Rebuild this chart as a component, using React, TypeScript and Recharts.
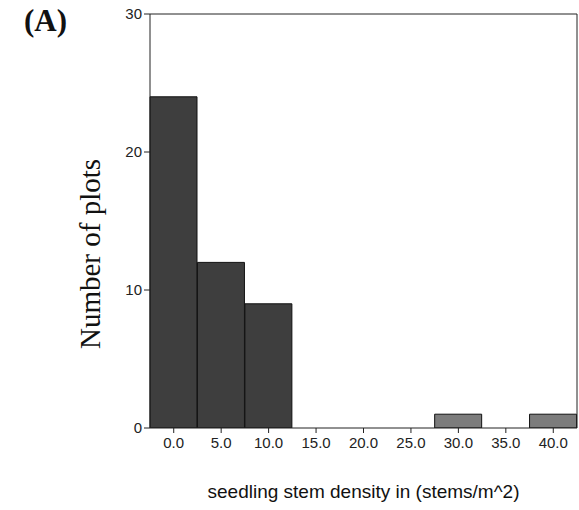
import { BarChart, Bar, XAxis, YAxis, Cell } from "recharts";

const binLabels = ["0.0", "5.0", "10.0", "15.0", "20.0", "25.0", "30.0", "35.0", "40.0"];
const plotCounts = [24, 12, 9, 0, 0, 0, 1, 0, 1];
const yTicks = [0, 10, 20, 30];

const data = binLabels.map((bin, i) => ({ bin, plots: plotCounts[i] }));

const tickFont = { fontSize: 15, fill: "#222", fontFamily: "Arial, 'Liberation Sans', sans-serif" };

function YTitle(props: any) {
  const vb = props.viewBox;
  const x = vb.x + 12;
  const y = vb.y + vb.height / 2 + 33;
  return (
    <text x={x} y={y} transform={`rotate(-90, ${x}, ${y})`} textAnchor="middle"
      style={{ fontFamily: "'Liberation Serif', 'Times New Roman', serif", fontSize: 29, fill: "#111" }}>
      Number of plots
    </text>
  );
}

function XTitle(props: any) {
  const vb = props.viewBox;
  return (
    <text x={vb.x + vb.width / 2} y={vb.y + 70} textAnchor="middle"
      style={{ fontFamily: "Arial, 'Liberation Sans', sans-serif", fontSize: 19, fill: "#111" }}>
      seedling stem density in (stems/m^2)
    </text>
  );
}

export default function App() {
  return (
    <div style={{ position: "absolute", left: 0, top: 0, width: 579, height: 510, background: "#fff" }}>
      <div style={{ position: "absolute", left: 24, top: 3, fontFamily: "'Liberation Serif', 'Times New Roman', serif", fontWeight: "bold", fontSize: 31, color: "#111" }}>
        (A)
      </div>
      <BarChart width={579} height={510} data={data} barCategoryGap={0}
        margin={{ top: 13, right: 1, left: 88, bottom: 52 }}>
        <XAxis dataKey="bin" interval={0} tick={tickFont} tickSize={5} tickMargin={4}
          stroke="#222" height={30} label={<XTitle />} />
        <XAxis xAxisId="top" dataKey="bin" orientation="top" height={1} tick={false} tickLine={false} stroke="#222" />
        <YAxis domain={[0, 30]} ticks={yTicks} tick={tickFont} tickSize={6} tickMargin={2}
          stroke="#222" width={62} allowDataOverflow label={<YTitle />} />
        <YAxis yAxisId="right" orientation="right" domain={[0, 30]} width={1} tick={false} tickLine={false} stroke="#222" />
        <Bar dataKey="plots" stroke="#111" strokeWidth={1} isAnimationActive={false}>
          {plotCounts.map((v, i) => (
            <Cell key={binLabels[i]} fill={v > 1 ? "#3e3e3e" : "#7c7c7c"} />
          ))}
        </Bar>
      </BarChart>
    </div>
  );
}
